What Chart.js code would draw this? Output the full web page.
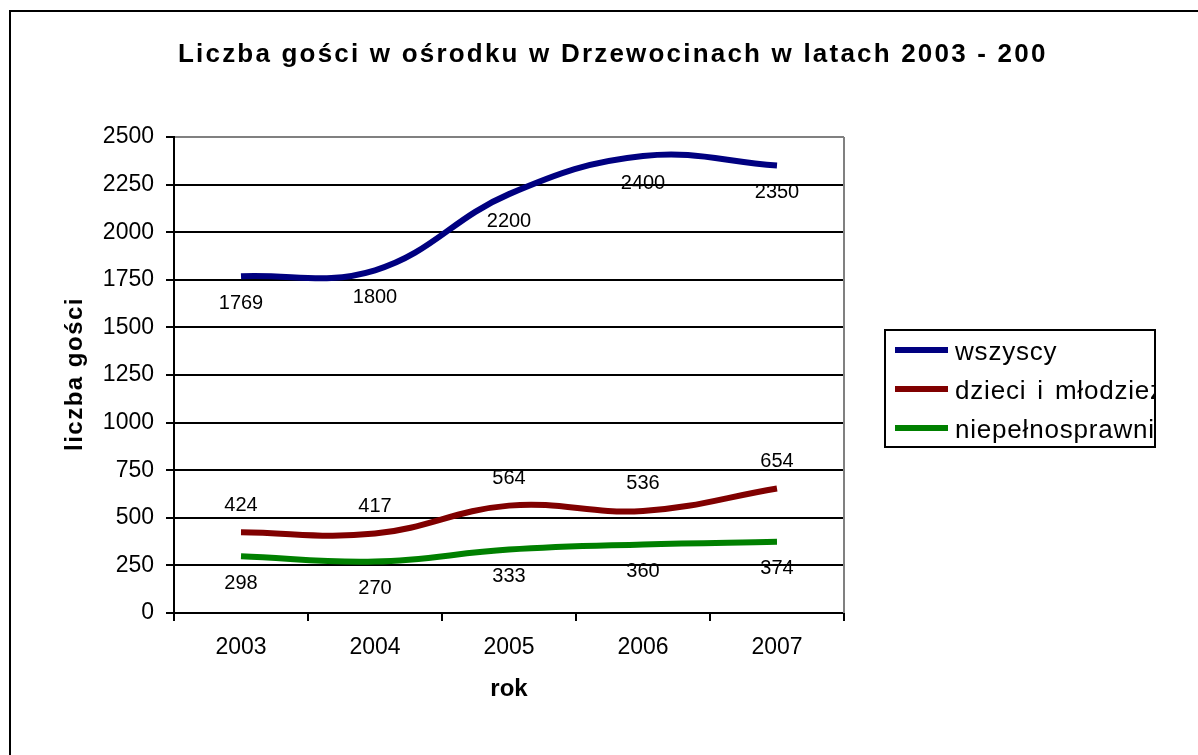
<!DOCTYPE html>
<html>
<head>
<meta charset="utf-8">
<script src="https://cdn.jsdelivr.net/npm/chart.js@4"></script>
<style>
html,body{margin:0;padding:0;background:#fff;}
#wrap{width:1198px;height:755px;position:relative;}
</style>
</head>
<body>
<div id="wrap"><canvas id="c" width="1198" height="755"></canvas></div>
<script>
const titleText = 'Liczba gości w ośrodku w Drzewocinach w latach 2003 - 2007';
const yAxisTitle = 'liczba gości';
const xAxisTitle = 'rok';
const years = ['2003', '2004', '2005', '2006', '2007'];
const seriesNames = ['wszyscy', 'dzieci i młodzież', 'niepełnosprawni'];
const wszyscy = [1769, 1800, 2200, 2400, 2350];
const dzieci = [424, 417, 564, 536, 654];
const niepelnosprawni = [298, 270, 333, 360, 374];

const FONT = '"Liberation Sans", Arial, sans-serif';
const colors = ['#000080', '#800000', '#008000'];
const labelOffsets = [27, -27, 27];

const decor = {
  id: 'decor',
  beforeDraw(chart) {
    const ctx = chart.ctx;
    ctx.save();
    ctx.fillStyle = '#fff';
    ctx.fillRect(0, 0, chart.width, chart.height);
    ctx.strokeStyle = '#000';
    ctx.lineWidth = 2;
    ctx.beginPath();
    ctx.moveTo(10, 760);
    ctx.lineTo(10, 11);
    ctx.lineTo(1210, 11);
    ctx.stroke();
    ctx.restore();
  },
  afterDraw(chart) {
    const ctx = chart.ctx;
    const a = chart.chartArea;
    ctx.save();
    ctx.strokeStyle = '#808080';
    ctx.lineWidth = 2;
    ctx.beginPath();
    ctx.moveTo(a.right, a.top);
    ctx.lineTo(a.right, a.bottom);
    ctx.stroke();
    // title (clipped like the reference)
    ctx.save();
    ctx.beginPath();
    ctx.rect(0, 0, 1045, 200);
    ctx.clip();
    ctx.fillStyle = '#000';
    ctx.font = 'bold 26px ' + FONT;
    ctx.letterSpacing = '2.2px';
    ctx.textAlign = 'left';
    ctx.textBaseline = 'alphabetic';
    ctx.fillText(titleText, 178, 62);
    ctx.restore();
    // axis titles
    ctx.fillStyle = '#000';
    ctx.font = 'bold 24px ' + FONT;
    ctx.textAlign = 'center';
    ctx.textBaseline = 'middle';
    ctx.fillText(xAxisTitle, (a.left + a.right) / 2, 689);
    ctx.save();
    ctx.translate(75, 374);
    ctx.rotate(-Math.PI / 2);
    ctx.letterSpacing = '1.5px';
    ctx.fillText(yAxisTitle, 0, 0);
    ctx.restore();
    // data labels
    ctx.font = '20px ' + FONT;
    chart.data.datasets.forEach((ds, i) => {
      const meta = chart.getDatasetMeta(i);
      meta.data.forEach((pt, j) => {
        ctx.fillText(String(ds.data[j]), pt.x, pt.y + labelOffsets[i]);
      });
    });
    // legend
    const lx = 885, ly = 330, lw = 270, lh = 117;
    ctx.lineWidth = 2;
    ctx.strokeStyle = '#000';
    ctx.strokeRect(lx, ly, lw, lh);
    ctx.save();
    ctx.beginPath();
    ctx.rect(lx, ly, lw - 1, lh);
    ctx.clip();
    ctx.font = '26px ' + FONT;
    ctx.letterSpacing = '0.8px';
    ctx.wordSpacing = '3px';
    ctx.textAlign = 'left';
    chart.data.datasets.forEach((ds, i) => {
      const cy = 350 + i * 39;
      ctx.strokeStyle = ds.borderColor;
      ctx.lineWidth = 6;
      ctx.beginPath();
      ctx.moveTo(895, cy);
      ctx.lineTo(948, cy);
      ctx.stroke();
      ctx.fillStyle = '#000';
      ctx.fillText(ds.label, 955, cy + 3);
    });
    ctx.restore();
    ctx.restore();
  }
};

new Chart(document.getElementById('c'), {
  type: 'line',
  data: {
    labels: years,
    datasets: [
      { label: seriesNames[0], data: wszyscy, borderColor: colors[0] },
      { label: seriesNames[1], data: dzieci, borderColor: colors[1] },
      { label: seriesNames[2], data: niepelnosprawni, borderColor: colors[2] }
    ].map(d => Object.assign(d, {
      borderWidth: 6, pointRadius: 0, tension: 0.4, fill: false,
      borderCapStyle: 'butt', backgroundColor: d.borderColor
    }))
  },
  options: {
    responsive: false,
    animation: false,
    events: [],
    layout: { padding: { top: 137, right: 354, left: 0, bottom: 0 } },
    plugins: { legend: { display: false }, title: { display: false }, tooltip: { enabled: false } },
    scales: {
      x: {
        type: 'category',
        offset: true,
        afterFit: s => { s.height = 142; },
        grid: { offset: true, drawOnChartArea: false, drawTicks: true, tickLength: 8, tickColor: '#000', lineWidth: 2, color: '#000' },
        border: { color: '#000', width: 2 },
        ticks: { color: '#000', font: { family: FONT, size: 23 }, padding: 13, maxRotation: 0 }
      },
      y: {
        min: 0, max: 2500,
        afterFit: s => { s.width = 174; },
        grid: {
          color: c => (c.tick && c.tick.value === 2500) ? '#808080' : '#000',
          lineWidth: 2, tickLength: 8, tickColor: '#000'
        },
        border: { color: '#000', width: 2 },
        ticks: { stepSize: 250, color: '#000', font: { family: FONT, size: 23 }, padding: 12,
                 callback: v => String(v) }
      }
    }
  },
  plugins: [decor]
});
</script>
</body>
</html>
